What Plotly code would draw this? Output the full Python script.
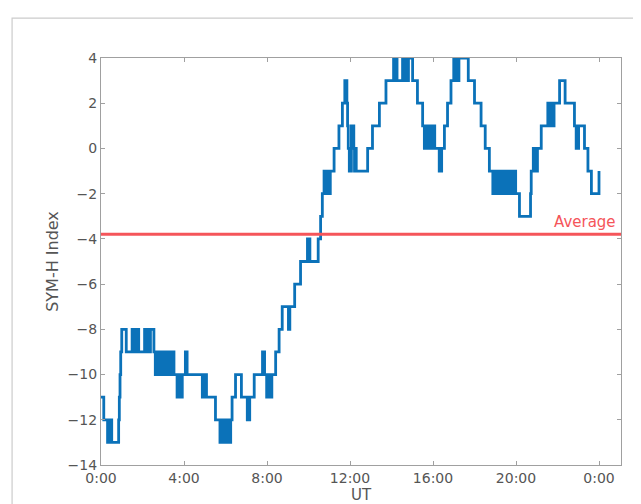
import plotly.graph_objects as go

# Step-change points of the SYM-H index (minutes after 0:00 UT, value in nT)
change_minutes = [
    0, 8, 19, 21, 23, 25, 27, 29, 31, 51, 53, 55, 57, 60, 73, 90, 97, 104, 109, 126,
    133, 135, 141, 143, 153, 157, 160, 163, 166, 169, 172, 175, 178, 181, 184, 187, 190,
    193, 196, 199, 202, 205, 208, 211, 220, 223, 225, 228, 230, 235, 244, 249, 293, 295,
    297, 299, 301, 303, 305, 331, 336, 344, 347, 350, 353, 356, 359, 362, 365, 368, 375,
    379, 384, 389, 406, 423, 430, 443, 467, 473, 479, 482, 485, 488, 491, 494, 505, 515,
    524, 542, 546, 560, 577, 597, 604, 628, 635, 640, 645, 648, 651, 654, 657, 660, 663,
    674, 688, 698, 705, 711, 713, 715, 718, 724, 727, 729, 731, 733, 736, 738, 771, 785,
    805, 824, 846, 849, 852, 856, 872, 880, 883, 886, 889, 901, 915, 930, 935, 938, 941,
    944, 947, 950, 953, 956, 959, 962, 965, 978, 985, 993, 1002, 1012, 1020, 1024, 1027,
    1031, 1035, 1062, 1080, 1099, 1111, 1123, 1133, 1136, 1139, 1142, 1145, 1148, 1151,
    1154, 1157, 1160, 1163, 1166, 1169, 1172, 1175, 1178, 1181, 1184, 1187, 1190, 1193,
    1196, 1199, 1202, 1210, 1242, 1244, 1250, 1253, 1256, 1259, 1262, 1273, 1292, 1295,
    1298, 1301, 1304, 1307, 1310, 1326, 1342, 1369, 1374, 1381, 1398, 1408, 1418, 1440,
]
change_values = [
    -11, -12, -13, -12, -13, -12, -13, -12, -13, -12, -11, -10, -9, -8, -9, -8, -9, -8, -9, -8,
    -9, -8, -9, -8, -9, -10, -9, -10, -9, -10, -9, -10, -9, -10, -9, -10, -9,
    -10, -9, -10, -9, -10, -9, -10, -11, -10, -11, -10, -11, -10, -9, -10, -11, -10,
    -11, -10, -11, -10, -11, -12, -12, -13, -12, -13, -12, -13, -12, -13, -12, -13, -12,
    -11, -11, -10, -11, -12, -11, -10, -9, -10, -11, -10, -11, -10, -11, -10, -9, -8,
    -7, -8, -7, -6, -5, -4, -5, -4, -3, -2, -1, -2, -1, -2, -1, -2, -1,
    0, 1, 2, 3, 2, 1, 0, -1, 1, 0, 1, 0, -1, 0, -1, 0, 1,
    2, 3, 4, 3, 4, 3, 4, 3, 4, 3, 4, 3, 2, 1, 0, 1, 0,
    1, 0, 1, 0, 1, 0, 1, 0, -1, 0, 1, 2, 3, 4, 3, 4,
    3, 4, 3, 2, 1, 0, -1, -2, -1, -2, -1, -2, -1, -2,
    -1, -2, -1, -2, -1, -2, -1, -2, -1, -2, -1, -2, -1, -2,
    -1, -2, -2, -3, -2, -1, 0, -1, 0, -1, 0, 1, 2, 1,
    2, 1, 2, 1, 2, 3, 2, 1, 0, 1, 0, -1, -2, -1,
]
average_value = -3.8
tick_hours = [0, 4, 8, 12, 16, 20, 24]
tick_labels = ["0:00", "4:00", "8:00", "12:00", "16:00", "20:00", "0:00"]
y_ticks = [4, 2, 0, -2, -4, -6, -8, -10, -12, -14]

hours = [m / 60 for m in change_minutes]
x_max = 25.06

fig = go.Figure()
fig.add_trace(go.Scatter(
    x=hours, y=change_values, mode="lines", line_shape="hv",
    line=dict(color="#0b72b9", width=2.8), showlegend=False,
))
fig.add_trace(go.Scatter(
    x=[0, x_max], y=[average_value, average_value], mode="lines",
    line=dict(color="#f5555a", width=3), showlegend=False,
))
fig.add_annotation(
    x=x_max, y=average_value, xref="x", yref="y", text="Average",
    showarrow=False, xanchor="right", yanchor="bottom", xshift=-3, yshift=1,
    font=dict(color="#f5555a", size=15, family="DejaVu Sans"),
)

axis_common = dict(
    showline=True, linecolor="#a0a0a0", linewidth=1.2, mirror="ticks",
    ticks="inside", ticklen=4, tickcolor="#a0a0a0", showgrid=False, zeroline=False,
    tickfont=dict(size=14, color="#555555", family="DejaVu Sans"),
)
fig.update_xaxes(
    range=[0, x_max], tickvals=tick_hours, ticktext=tick_labels,
    title=dict(text="UT", font=dict(size=15, color="#555555", family="DejaVu Sans"), standoff=2),
    **axis_common,
)
fig.update_yaxes(
    range=[-14, 4], tickvals=y_ticks,
    title=dict(text="SYM-H Index", font=dict(size=16, color="#555555", family="DejaVu Sans"), standoff=4),
    **axis_common,
)
fig.add_shape(
    type="rect", xref="paper", yref="paper", x0=-0.171, x1=1.2, y0=-0.3, y1=1.098,
    line=dict(color="#cccccc", width=1.2), fillcolor="rgba(0,0,0,0)", layer="below",
)
fig.update_layout(
    width=641, height=504,
    margin=dict(l=93, r=28, t=50, b=47),
    plot_bgcolor="white", paper_bgcolor="white",
)
fig.write_html("out.html")
